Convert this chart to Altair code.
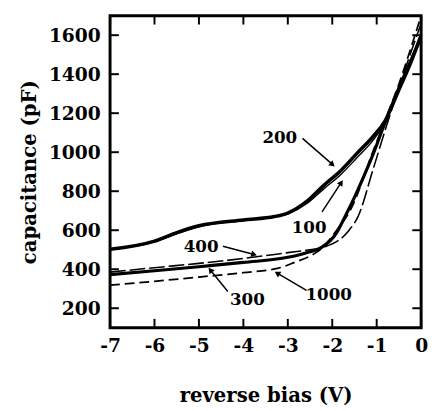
import math
import altair as alt
import pandas as pd

# ---- data ----
x200 = [-7, -6, -5.5, -5, -4, -3.3, -3, -2.56, -2.19, -1.81, -1.46, -1.08, -0.82, -0.5, -0.25, 0]
v200 = [502, 544, 588, 623, 653, 670, 688, 750, 830, 905, 990, 1081, 1157, 1320, 1450, 1600]

x100 = [-7, -6, -5.5, -5, -4, -3.3, -3, -2.56, -2.19, -1.81, -1.46, -1.08, -0.82, -0.5, -0.25, 0]
v100 = [500, 540, 582, 618, 650, 668, 684, 738, 812, 885, 968, 1062, 1150, 1330, 1460, 1580]

x300 = [-7, -6, -5, -4, -3, -2.56, -2.24, -1.9, -1.75, -1.53, -1.3, -1.08, -0.86, -0.5, -0.25, 0]
v300 = [372, 392, 413, 435, 461, 486, 512, 588, 653, 754, 871, 990, 1123, 1330, 1460, 1590]

x400 = [-7, -6, -5, -4, -3, -2.5, -2.2, -1.64, -1.42, -1.08, -0.8, -0.4, 0]
v400 = [385, 408, 430, 455, 485, 500, 512, 595, 670, 913, 1120, 1400, 1660]

x1000 = [-7, -6, -5, -4, -3.14, -2.85, -2.4, -2.2, -1.9, -1.59, -1.08, -0.8, -0.5, -0.25, 0]
v1000 = [318, 338, 360, 382, 410, 435, 480, 515, 600, 704, 1006, 1170, 1350, 1520, 1700]

label_text = ["200", "100", "400", "300", "1000"]
label_x = [-3.18, -2.52, -4.95, -3.91, -2.08]
label_v = [1071, 613, 513, 241, 266]

arrow_x1 = [-2.67, -2.23, -4.46, -4.35, -2.58]
arrow_v1 = [1071, 694, 518, 286, 291]
arrow_x2 = [-2.01, -1.81, -3.78, -4.73, -3.22]
arrow_v2 = [940, 840, 477, 392, 377]

x_ticks = [-7, -6, -5, -4, -3, -2, -1, 0]
y_ticks = [200, 400, 600, 800, 1000, 1200, 1400, 1600]

# ---- layout ----
W, H = 317, 318
XD = [-7, 0]
YD = [100, 1700]
FONT = "DejaVu Serif"

xs = alt.Scale(domain=XD, nice=False, zero=False)
ys = alt.Scale(domain=YD, nice=False, zero=False)


def curve(xv, vv, **mark):
    df = pd.DataFrame({"x": xv, "v": vv})
    return alt.Chart(df).mark_line(color="black", interpolate="monotone", clip=True, **mark).encode(
        x=alt.X("x:Q", scale=xs,
                axis=alt.Axis(values=x_ticks, title="reverse bias (V)", ticks=False, domain=False,
                              grid=False, labelFont=FONT, labelFontWeight="bold", labelFontSize=19,
                              labelPadding=9, titleFont=FONT, titleFontWeight="bold",
                              titleFontSize=20, titlePadding=31, labelColor="black",
                              titleColor="black", labelFlush=False,
                              labelExpr="'' + datum.value")),
        y=alt.Y("v:Q", scale=ys,
                axis=alt.Axis(values=y_ticks, title="capacitance (pF)", ticks=False, domain=False,
                              grid=False, labelFont=FONT, labelFontWeight="bold", labelFontSize=19,
                              labelPadding=10, titleFont=FONT, titleFontWeight="bold",
                              titleFontSize=20, titlePadding=9, labelColor="black",
                              titleColor="black", labelExpr="'' + datum.value")),
    )


c200 = curve(x200, v200, strokeWidth=3.6)
c100 = curve(x100, v100, strokeWidth=1.4)
c300 = curve(x300, v300, strokeWidth=3.2)
c400 = curve(x400, v400, strokeWidth=1.6, strokeDash=[16, 4])
c1000 = curve(x1000, v1000, strokeWidth=1.8, strokeDash=[10, 5])

labels = alt.Chart(pd.DataFrame({"t": label_text, "x": label_x, "v": label_v})).mark_text(
    font=FONT, fontWeight="bold", fontSize=17, color="black", align="center", baseline="middle"
).encode(x=alt.X("x:Q", scale=xs), y=alt.Y("v:Q", scale=ys), text="t:N")


def px(x):
    return (x - XD[0]) / (XD[1] - XD[0]) * W


def py(v):
    return H - (v - YD[0]) / (YD[1] - YD[0]) * H


angles = []
for a, b, c, d in zip(arrow_x1, arrow_v1, arrow_x2, arrow_v2):
    dx = px(c) - px(a)
    dy = py(d) - py(b)
    angles.append(math.degrees(math.atan2(dx, -dy)) % 360)

adf = pd.DataFrame({"x1": arrow_x1, "v1": arrow_v1, "x2": arrow_x2, "v2": arrow_v2, "ang": angles})
arrow_lines = alt.Chart(adf).mark_rule(color="black", strokeWidth=1.5).encode(
    x=alt.X("x1:Q", scale=xs), y=alt.Y("v1:Q", scale=ys), x2="x2:Q", y2="v2:Q")
arrow_heads = alt.Chart(adf).mark_point(shape="triangle", filled=True, color="black", size=45,
                                        opacity=1).encode(
    x=alt.X("x2:Q", scale=xs), y=alt.Y("v2:Q", scale=ys), angle=alt.Angle("ang:Q", scale=None))

# inward ticks on all four sides
xt = pd.DataFrame({"x": x_ticks})
yt = pd.DataFrame({"v": y_ticks})
tb = alt.Chart(xt).mark_rule(color="black", strokeWidth=2).encode(
    x=alt.X("x:Q", scale=xs), y=alt.value(H), y2=alt.value(H - 9))
tt = alt.Chart(xt).mark_rule(color="black", strokeWidth=2).encode(
    x=alt.X("x:Q", scale=xs), y=alt.value(0), y2=alt.value(9))
tl = alt.Chart(yt).mark_rule(color="black", strokeWidth=2).encode(
    y=alt.Y("v:Q", scale=ys), x=alt.value(0), x2=alt.value(9))
tr = alt.Chart(yt).mark_rule(color="black", strokeWidth=2).encode(
    y=alt.Y("v:Q", scale=ys), x=alt.value(W), x2=alt.value(W - 9))

chart = alt.layer(c200, c100, c300, c400, c1000, labels, arrow_lines, arrow_heads,
                  tb, tt, tl, tr).properties(
    width=W, height=H,
    background="white",
    autosize=alt.AutoSizeParams(type="none"),
    padding={"left": 104, "top": 4, "right": 7, "bottom": 80},
).configure_view(stroke="black", strokeWidth=3)

chart.save("out.html", embed_options={"renderer": "svg", "actions": False})
